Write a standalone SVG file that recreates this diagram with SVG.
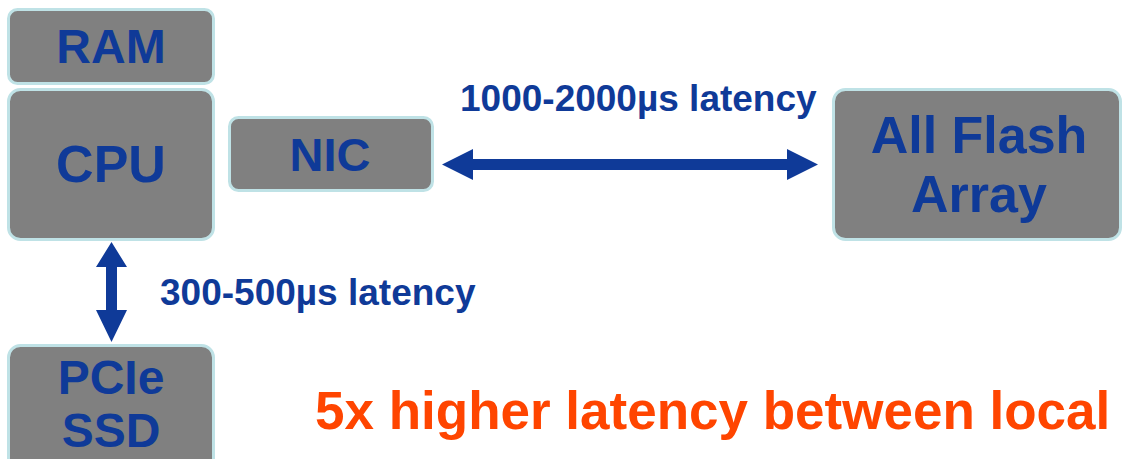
<svg xmlns="http://www.w3.org/2000/svg" width="1123" height="459" viewBox="0 0 1123 459">
<style>
.box{fill:#808080;stroke:#bfe2e6;stroke-width:3}
.lbl{font-family:"Liberation Sans",Arial,sans-serif;font-weight:bold;fill:#0f3a98;text-anchor:middle}
.lat{font-family:"Liberation Sans",Arial,sans-serif;font-weight:bold;fill:#0f3a98;font-size:37px}
.arr{fill:#0f3a98}
.note{font-family:"Liberation Sans",Arial,sans-serif;font-weight:bold;fill:#ff4500;font-size:53px}
</style>
<rect width="1123" height="459" fill="#ffffff"/>
<g id="ram">
<rect class="box" x="8.5" y="9.5" width="205" height="74" rx="9"/>
<text class="lbl" x="111" y="63" font-size="48">RAM</text>
</g>
<g id="cpu">
<rect class="box" x="8.5" y="89.5" width="205" height="150" rx="12"/>
<text class="lbl" x="111" y="182" font-size="52">CPU</text>
</g>
<g id="nic">
<rect class="box" x="229.5" y="117.5" width="203" height="73" rx="9"/>
<text class="lbl" x="330" y="171" font-size="47">NIC</text>
</g>
<g id="afa">
<rect class="box" x="833.5" y="89.5" width="287" height="150" rx="12"/>
<text class="lbl" x="979" y="153" font-size="52">All Flash</text>
<text class="lbl" x="979" y="212" font-size="52">Array</text>
</g>
<g id="pcie">
<rect class="box" x="8.5" y="345.5" width="205" height="140" rx="12"/>
<text class="lbl" x="111" y="394" font-size="48">PCIe</text>
<text class="lbl" x="111" y="447" font-size="48">SSD</text>
</g>
<g id="connectors">
<polygon class="arr" points="442,164.5 473,149 473,159 787,159 787,149 818,164.5 787,180 787,170 473,170 473,180"/>
<polygon class="arr" points="111.5,242 127,267 117,267 117,310 127,310 111.5,342 96,310 106,310 106,267 96,267"/>
</g>
<g id="labels">
<text class="lat" x="460" y="111">1000-2000µs latency</text>
<text class="lat" x="160" y="305">300-500µs latency</text>
<text class="note" x="315" y="429">5x higher latency between local</text>
</g>
</svg>
